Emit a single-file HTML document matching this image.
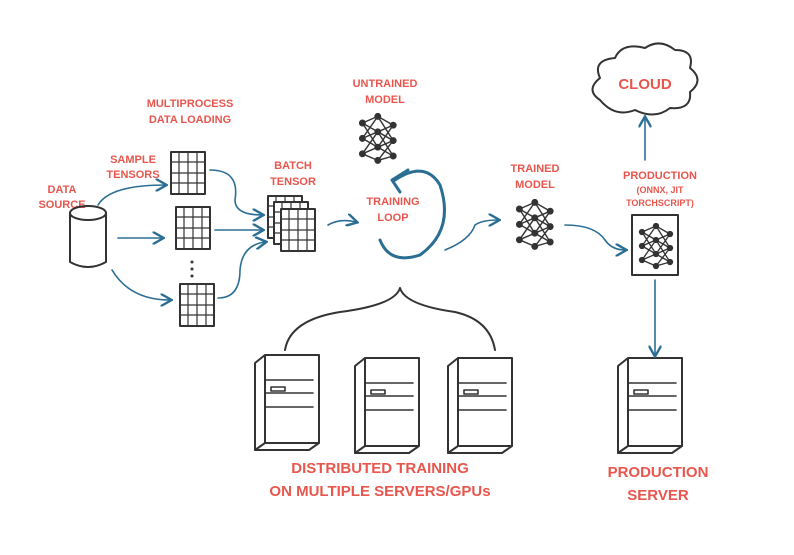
<!DOCTYPE html>
<html><head><meta charset="utf-8"><style>
html,body{margin:0;padding:0;background:#fff;}
svg{display:block}
text{font-family:"Liberation Sans",sans-serif;fill:#e8564d;text-anchor:middle;font-weight:bold;}
.s{font-size:11px;}
.l{font-size:15px;}
.d{stroke:#333;stroke-width:2;fill:none;stroke-linecap:round;stroke-linejoin:round}
.b{stroke:#2b6e94;stroke-width:1.6;fill:none;stroke-linecap:round}
</style></head><body>
<svg width="794" height="555" viewBox="0 0 794 555" xmlns="http://www.w3.org/2000/svg">
<defs>
<marker id="a" markerWidth="8" markerHeight="8" refX="6" refY="4" orient="auto"><path d="M0,0 L7,4 L0,8" fill="none" stroke="#2b6e94" stroke-width="1.5"/></marker>
<g id="grid">
<rect x="0" y="0" width="34" height="42" class="d"/>
<path d="M8,0V42M17,0V42M26,0V42M0,10H34M0,21H34M0,31H34" stroke="#333" stroke-width="1.2"/>
</g>
<g id="net" stroke="#333" stroke-width="1.3" fill="none">
<path d="M4,10L18,4L32,12M4,10L18,18L32,12M4,10L18,32M4,24L18,18L32,26M4,24L18,4M4,24L18,32L32,26M4,38L18,32L32,40M4,38L18,18M18,4L32,26M18,32L32,12M18,18L32,40M18,44L32,40M18,44L4,38M18,44L32,26"/>
<g fill="#333"><circle cx="4" cy="10" r="2.5"/><circle cx="4" cy="24" r="2.5"/><circle cx="4" cy="38" r="2.5"/><circle cx="18" cy="4" r="2.5"/><circle cx="18" cy="18" r="2.5"/><circle cx="18" cy="32" r="2.5"/><circle cx="18" cy="44" r="2.5"/><circle cx="32" cy="12" r="2.5"/><circle cx="32" cy="26" r="2.5"/><circle cx="32" cy="40" r="2.5"/></g>
</g>
<g id="srv" class="d">
<path d="M0,8 L10,0 L64,0 L64,88 L54,95 L0,95 Z M10,0 L10,88 L64,88 M10,88 L0,95"/>
<path d="M10,25 H58 M10,38 H58 M10,52 H58 M16,32 H30 V36 H16 Z" stroke-width="1.6"/>
</g>
</defs>

<text class="s" x="62" y="193">DATA</text><text class="s" x="62" y="208">SOURCE</text>
<text class="s" x="133" y="163">SAMPLE</text><text class="s" x="133" y="178">TENSORS</text>
<text class="s" x="190" y="107">MULTIPROCESS</text><text class="s" x="190" y="123">DATA LOADING</text>
<text class="s" x="293" y="169">BATCH</text><text class="s" x="293" y="185">TENSOR</text>
<text class="s" x="385" y="87">UNTRAINED</text><text class="s" x="385" y="103">MODEL</text>
<text class="s" x="393" y="205">TRAINING</text><text class="s" x="393" y="221">LOOP</text>
<text class="s" x="535" y="172">TRAINED</text><text class="s" x="535" y="188">MODEL</text>
<text class="s" x="660" y="179">PRODUCTION</text>
<text x="660" y="193" style="font-size:9px">(ONNX, JIT</text>
<text x="660" y="206" style="font-size:9px">TORCHSCRIPT)</text>
<text x="645" y="89" style="font-size:15px">CLOUD</text>
<text class="l" x="380" y="473">DISTRIBUTED TRAINING</text>
<text class="l" x="380" y="496">ON MULTIPLE SERVERS/GPUs</text>
<text class="l" x="658" y="477">PRODUCTION</text>
<text class="l" x="658" y="500">SERVER</text>

<g class="d"><ellipse cx="88" cy="213" rx="18" ry="7"/><path d="M70,213 V262 Q88,272 106,262 V213"/></g>

<use href="#grid" x="171" y="152"/>
<use href="#grid" x="176" y="207"/>
<use href="#grid" x="180" y="284"/>
<g fill="#333"><circle cx="192" cy="262" r="1.5"/><circle cx="192" cy="269" r="1.5"/><circle cx="192" cy="276" r="1.5"/></g>
<use href="#grid" x="268" y="196"/>
<rect x="274" y="202" width="34" height="42" fill="#fff"/><use href="#grid" x="274" y="202"/>
<rect x="281" y="209" width="34" height="42" fill="#fff"/><use href="#grid" x="281" y="209"/>

<use href="#net" transform="translate(358,112) scale(1.1)"/>
<use href="#net" transform="translate(515,198) scale(1.1)"/>
<rect x="632" y="215" width="46" height="60" class="d" stroke-width="1.5"/>
<use href="#net" x="638" y="222"/>

<path class="d" d="M600,100 Q585,90 600,78 Q592,60 615,58 Q622,42 645,48 Q660,38 675,50 Q695,50 690,68 Q705,80 690,92 Q692,110 670,108 Q655,120 635,110 Q615,118 600,100 Z"/>

<use href="#srv" x="255" y="355"/>
<use href="#srv" x="355" y="358"/>
<use href="#srv" x="448" y="358"/>
<use href="#srv" x="618" y="358"/>

<path class="d" d="M285,350 Q290,320 340,312 Q395,305 400,288 Q405,305 455,312 Q490,320 495,350"/>

<g class="b" marker-end="url(#a)">
<path d="M98,205 Q110,185 165,185"/>
<path d="M118,238 L162,238"/>
<path d="M112,270 Q130,300 170,300"/>
<path d="M210,170 Q240,170 235,200 Q235,215 262,215"/>
<path d="M215,230 L262,230"/>
<path d="M218,298 Q240,298 240,270 Q242,245 265,242"/>
<path d="M328,225 Q340,218 356,222"/>
<path d="M445,250 Q470,240 475,225 Q482,220 498,220"/>
<path d="M565,225 Q595,225 605,240 Q612,250 625,250"/>
<path d="M645,160 L645,118"/>
<path d="M655,280 L655,355"/>
</g>
<path d="M395,180 Q425,160 440,185 Q455,230 420,255 Q390,265 380,240" stroke="#2b6e94" stroke-width="3" fill="none" stroke-linecap="round"/>
<path d="M408,170 L392,180 L400,192" stroke="#2b6e94" stroke-width="3" fill="none" stroke-linecap="round" stroke-linejoin="round"/>
</svg>
</body></html>
